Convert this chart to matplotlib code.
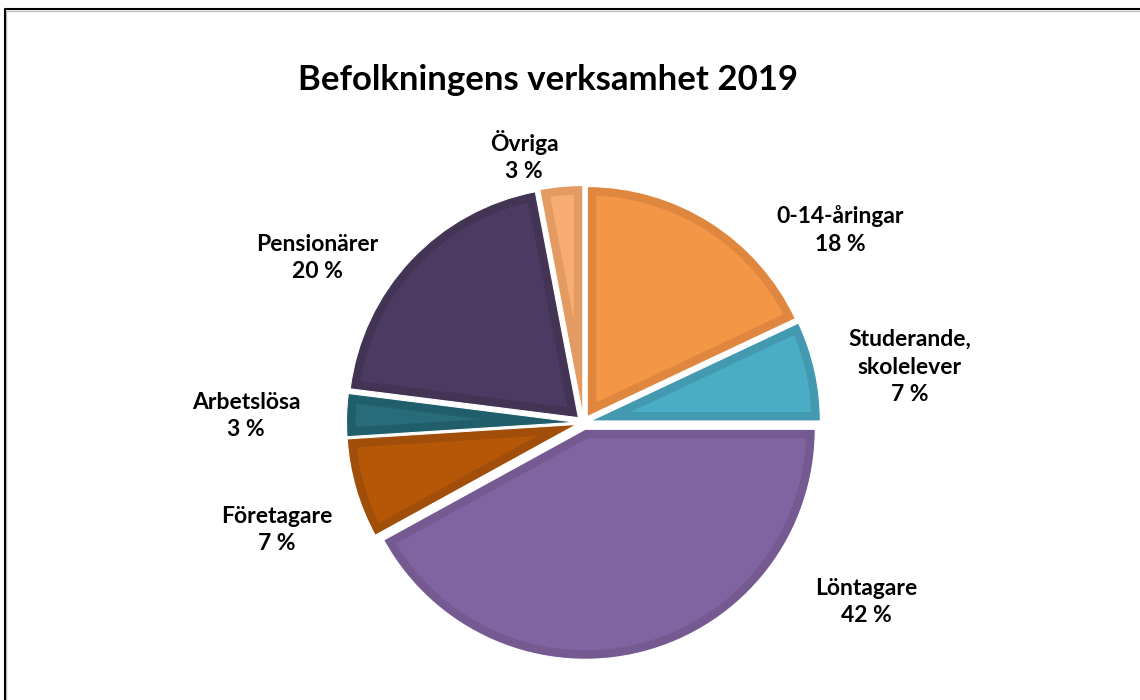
import numpy as np
import matplotlib
matplotlib.use("Agg")
import matplotlib.pyplot as plt
import matplotlib.patches as mpatches

plt.rcParams['font.family'] = ['Lato', 'DejaVu Sans']

# data, clockwise from 12 o'clock
categories = ["0-14-åringar", "Studerande,\nskolelever", "Löntagare", "Företagare",
              "Arbetslösa", "Pensionärer", "Övriga"]
shares = [18, 7, 42, 7, 3, 20, 3]

fill_colors = ["#F39747", "#4BACC6", "#8064A2", "#B65708", "#286B79", "#4B3A61", "#F9AC72"]
edge_colors = ["#E0873F", "#4299B0", "#755A92", "#A04E0A", "#215E6B", "#433456", "#E39A63"]

# label centres in pixels (x, y from top)
label_pos = [(840, 230), (910, 367), (866, 602), (277, 530), (246, 416), (317, 258), (524, 156)]

W, H = 1140, 700
BORDER = 9  # width of the darker rim, px


def inset_wedge(w, b):
    # polygon of the wedge shrunk inward by b on every side
    c = np.array(w.center)
    t1, t2 = np.radians(w.theta1), np.radians(w.theta2)
    half = (t2 - t1) / 2
    R = w.r - b
    v = c + b / np.sin(half) * np.array([np.cos(t1 + half), np.sin(t1 + half)])
    da = np.arctan2(b, np.sqrt(R ** 2 - b ** 2))
    arc = np.linspace(t1 + da, t2 - da, 100)
    pts = np.column_stack([c[0] + R * np.cos(arc), c[1] + R * np.sin(arc)])
    return np.vstack([v, pts])


fig = plt.figure(figsize=(W / 100, H / 100), dpi=100)
ax = fig.add_axes([0, 0, 1, 1])

cx, cy, r = 583.5, H - 422.5, 230
# explode is an absolute offset here (data units = px)
wedges, _ = ax.pie(shares, colors=edge_colors, startangle=90, counterclock=False,
                   center=(cx, cy), radius=r, explode=[7] * len(shares),
                   wedgeprops=dict(edgecolor="white", linewidth=0.8), frame=True)
ax.set_xlim(0, W)
ax.set_ylim(0, H)
ax.set_aspect("equal")
ax.axis("off")

for w, fc in zip(wedges, fill_colors):
    ax.add_patch(mpatches.Polygon(inset_wedge(w, BORDER), closed=True, fc=fc, ec="none"))

for name, val, (px, py) in zip(categories, shares, label_pos):
    ax.text(px, H - py, f"{name}\n{val} %", ha="center", va="center",
            fontsize=16.5, fontweight="bold", color="#000000", linespacing=1.38)

ax.text(548, H - 80, "Befolkningens verksamhet 2019", ha="center", va="center",
        fontsize=25, fontweight="bold", color="#000000")

# frame of the original chart area
ax.plot([6, 6, W], [0, H - 10.5, H - 10.5], color="#c0c0c0", lw=1, solid_capstyle="butt")
ax.plot([4.5, 4.5, W], [0, H - 8.5, H - 8.5], color="black", lw=1.5, solid_capstyle="butt")

fig.savefig("out.png", dpi=100)
